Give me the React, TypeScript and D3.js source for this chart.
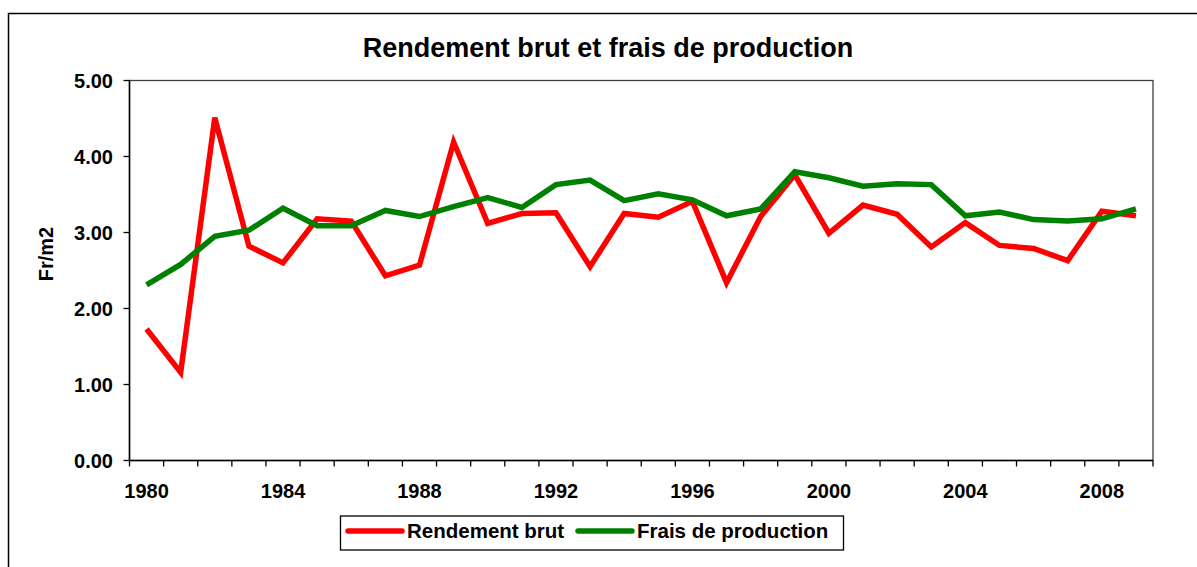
import { useEffect, useRef } from 'react';
import * as d3 from 'd3';

const years = d3.range(1980, 2010);
const rendementBrut = [
  1.73, 1.16, 4.51, 2.82, 2.6, 3.18, 3.15, 2.43, 2.57, 4.19,
  3.12, 3.25, 3.26, 2.55, 3.25, 3.2, 3.41, 2.34, 3.21, 3.76,
  2.99, 3.36, 3.24, 2.81, 3.13, 2.83, 2.79, 2.63, 3.28, 3.22,
];
const fraisProduction = [
  2.31, 2.58, 2.95, 3.03, 3.32, 3.09, 3.09, 3.29, 3.21, 3.34,
  3.46, 3.33, 3.63, 3.69, 3.42, 3.51, 3.43, 3.22, 3.31, 3.8,
  3.72, 3.61, 3.64, 3.63, 3.22, 3.27, 3.17, 3.15, 3.18, 3.31,
];
const yTicks = [0, 1, 2, 3, 4, 5];
const labelYears = [1980, 1984, 1988, 1992, 1996, 2000, 2004, 2008];
const seriesNames = ['Rendement brut', 'Frais de production'];
const seriesColors = ['#ff0000', '#008000'];

const W = 1197;
const H = 567;
const FONT = 'Arial, "Liberation Sans", sans-serif';

const App = () => {
  const svgRef = useRef<SVGSVGElement>(null);

  useEffect(() => {
    const svg = d3.select(svgRef.current);
    svg.selectAll('*').remove();

    const left = 129.5, right = 1153, top = 80.5, bottom = 460.5;

    const x = d3.scaleBand<number>().domain(years).range([left, right]).padding(0);
    const y = d3.scaleLinear().domain([0, 5]).range([bottom, top]);

    // outer chart border (runs past the window right and bottom)
    svg.append('rect')
      .attr('x', 8.5).attr('y', 13.5)
      .attr('width', 1300).attr('height', 700)
      .attr('fill', 'white').attr('stroke', '#000').attr('stroke-width', 1.5);

    svg.append('text')
      .attr('x', 608).attr('y', 57)
      .attr('text-anchor', 'middle')
      .attr('font-family', FONT).attr('font-weight', 'bold').attr('font-size', 27)
      .text('Rendement brut et frais de production');

    // plot frame
    svg.append('rect')
      .attr('x', left).attr('y', top)
      .attr('width', right - left).attr('height', bottom - top)
      .attr('fill', 'none').attr('stroke', '#404040').attr('stroke-width', 1.3);

    // y axis
    const yAxis = svg.append('g');
    yAxis.append('line')
      .attr('x1', left).attr('x2', left).attr('y1', top).attr('y2', bottom)
      .attr('stroke', '#000').attr('stroke-width', 1.5);
    yTicks.forEach((t) => {
      yAxis.append('line')
        .attr('x1', left - 6).attr('x2', left).attr('y1', y(t)).attr('y2', y(t))
        .attr('stroke', '#000').attr('stroke-width', 1.3);
      yAxis.append('text')
        .attr('x', 113).attr('y', y(t))
        .attr('dy', '0.36em')
        .attr('text-anchor', 'end')
        .attr('font-family', FONT).attr('font-weight', 'bold').attr('font-size', 20)
        .text(d3.format('.2f')(t));
    });

    svg.append('text')
      .attr('transform', `translate(53,254) rotate(-90)`)
      .attr('text-anchor', 'middle')
      .attr('font-family', FONT).attr('font-weight', 'bold').attr('font-size', 20)
      .text('Fr/m2');

    // x axis
    const xAxis = svg.append('g');
    xAxis.append('line')
      .attr('x1', left).attr('x2', right).attr('y1', bottom).attr('y2', bottom)
      .attr('stroke', '#000').attr('stroke-width', 1.5);
    const bounds = years.map((yr) => x(yr) as number).concat([right]);
    bounds.forEach((bx) => {
      xAxis.append('line')
        .attr('x1', bx).attr('x2', bx).attr('y1', bottom).attr('y2', bottom + 6)
        .attr('stroke', '#000').attr('stroke-width', 1.3);
    });
    labelYears.forEach((yr) => {
      xAxis.append('text')
        .attr('x', (x(yr) as number) + x.bandwidth() / 2).attr('y', 498)
        .attr('text-anchor', 'middle')
        .attr('font-family', FONT).attr('font-weight', 'bold').attr('font-size', 20)
        .text(String(yr));
    });

    // series lines
    const line = d3.line<number>()
      .x((_, i) => (x(years[i]) as number) + x.bandwidth() / 2)
      .y((d) => y(d));
    [rendementBrut, fraisProduction].forEach((data, i) => {
      svg.append('path')
        .datum(data)
        .attr('d', line)
        .attr('fill', 'none')
        .attr('stroke', seriesColors[i])
        .attr('stroke-width', 5.5)
        .attr('stroke-linejoin', 'miter');
    });

    // legend
    const lg = svg.append('g');
    lg.append('rect')
      .attr('x', 340.5).attr('y', 516)
      .attr('width', 503).attr('height', 34)
      .attr('fill', 'white').attr('stroke', '#000').attr('stroke-width', 1.3);
    const legendX = [346, 576];
    seriesNames.forEach((name, i) => {
      lg.append('line')
        .attr('x1', legendX[i] + 2).attr('x2', legendX[i] + 56)
        .attr('y1', 531).attr('y2', 531)
        .attr('stroke', seriesColors[i]).attr('stroke-width', 5.5)
        .attr('stroke-linecap', 'round');
      lg.append('text')
        .attr('x', legendX[i] + 61).attr('y', 531)
        .attr('dy', '0.36em')
        .attr('font-family', FONT).attr('font-weight', 'bold').attr('font-size', 20.5)
        .text(name);
    });
  }, []);

  return (
    <svg
      ref={svgRef}
      width={W}
      height={H}
      style={{ position: 'absolute', left: 0, top: 0, background: 'white' }}
    />
  );
};

export default App;
